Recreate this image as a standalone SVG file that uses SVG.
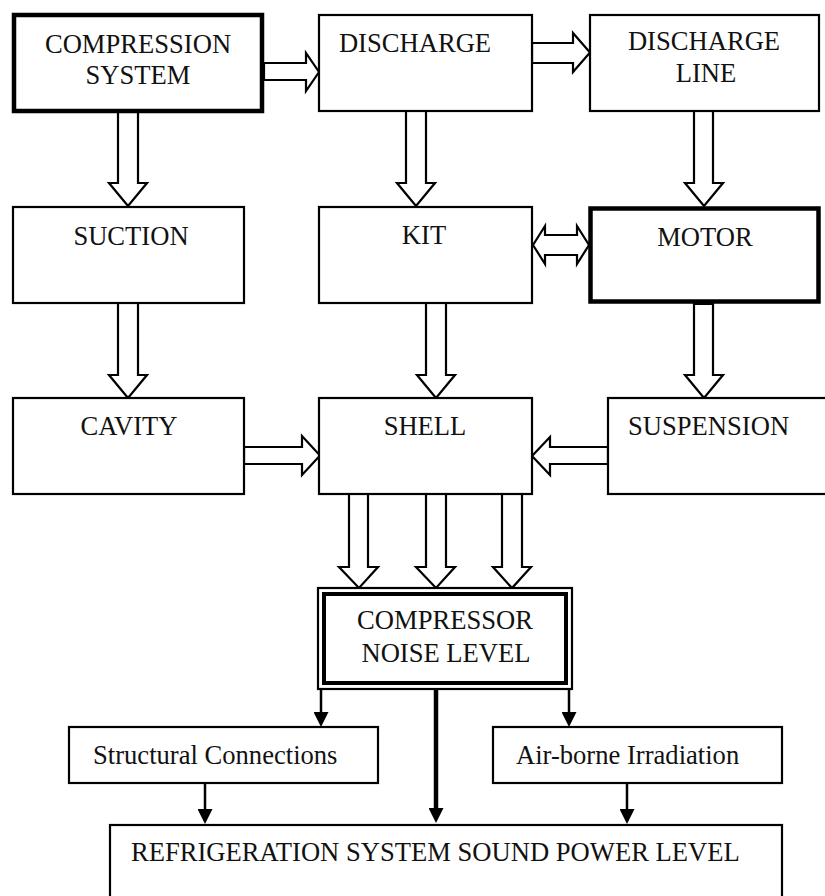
<svg xmlns="http://www.w3.org/2000/svg" width="825" height="896" viewBox="0 0 825 896">
<style>
text{font-family:"Liberation Serif","Times New Roman",serif;font-size:26.6px;fill:#111}
.c{text-anchor:middle}
.box{fill:#fff;stroke:#000;stroke-width:2.2}
.thick{fill:#fff;stroke:#000;stroke-width:4.5}
.blk{fill:#fff;stroke:#000;stroke-width:2.2;stroke-linejoin:miter}
.ln{fill:none;stroke:#000;stroke-width:2.5}
.lnb{fill:none;stroke:#000;stroke-width:4.5}
</style>
<defs>
<marker id="ah" viewBox="0 0 15 15" refX="0" refY="7.5" markerWidth="15" markerHeight="15" markerUnits="userSpaceOnUse" orient="auto">
<path d="M0,0 L15,7.5 L0,15 z" fill="#000"/>
</marker>
</defs>
<rect width="825" height="896" fill="#fff"/>

<g id="connectors">
<polygon class="blk" points="118,112 118,183 109,183 128,206 147,183 138,183 138,112"/>
<polygon class="blk" points="406,111 406,183 397,183 416,206 435,183 426,183 426,111"/>
<polygon class="blk" points="694,111 694,183 685,183 704,206 723,183 713,183 713,111"/>
<polygon class="blk" points="118,303 118,375 109,375 128,398 147,375 138,375 138,303"/>
<polygon class="blk" points="426,303 426,375 417,375 436,398 455,375 446,375 446,303"/>
<polygon class="blk" points="694,304 694,375 685,375 704,398 723,375 713,375 713,304"/>
<polygon class="blk" points="349,494 349,567 339,567 359,588 378,567 368,567 368,494"/>
<polygon class="blk" points="426,494 426,567 416,567 436,588 455,567 446,567 446,494"/>
<polygon class="blk" points="502,494 502,567 493,567 512,588 531,567 522,567 522,494"/>
<polygon class="blk" points="264,63 306,63 306,53 319,72 306,91 306,80 264,80"/>
<polygon class="blk" points="532,43 573,43 573,33 590,52.5 573,72 573,63 532,63"/>
<polygon class="blk" points="244,447 302,447 302,436 320,455.5 302,475 302,464 244,464"/>
<polygon class="blk" points="608,447 550,447 550,437 532,456 550,475 550,464 608,464"/>
<polygon class="blk" points="533,245 545,226 545,235 577,235 577,226 589,245 577,264 577,255 545,255 545,264"/>
<line class="ln" x1="321" y1="690" x2="321" y2="712" marker-end="url(#ah)"/>
<line class="ln" x1="569" y1="690" x2="569" y2="712" marker-end="url(#ah)"/>
<line class="lnb" x1="436" y1="690" x2="436" y2="808" marker-end="url(#ah)"/>
<line class="ln" x1="205" y1="783" x2="205" y2="809" marker-end="url(#ah)"/>
<line class="ln" x1="627" y1="783" x2="627" y2="809" marker-end="url(#ah)"/>
</g>

<g id="compression-system">
<rect class="thick" x="14" y="15" width="248" height="96"/>
<text class="c" x="138" y="53">COMPRESSION</text>
<text class="c" x="138" y="84">SYSTEM</text>
</g>
<g id="discharge">
<rect class="box" x="319" y="15" width="213" height="96"/>
<text class="c" x="415" y="52">DISCHARGE</text>
</g>
<g id="discharge-line">
<rect class="box" x="590" y="15" width="229" height="96"/>
<text class="c" x="704" y="50">DISCHARGE</text>
<text class="c" x="706" y="82">LINE</text>
</g>
<g id="suction">
<rect class="box" x="13" y="207" width="231" height="96"/>
<text class="c" x="131" y="245">SUCTION</text>
</g>
<g id="kit">
<rect class="box" x="319" y="207" width="213" height="96"/>
<text class="c" x="424" y="244">KIT</text>
</g>
<g id="motor">
<rect class="thick" x="590.5" y="208.5" width="228" height="93"/>
<text class="c" x="705" y="246">MOTOR</text>
</g>
<g id="cavity">
<rect class="box" x="13" y="398" width="231" height="96"/>
<text class="c" x="129" y="435">CAVITY</text>
</g>
<g id="shell">
<rect class="box" x="319" y="398" width="213" height="96"/>
<text class="c" x="425" y="435">SHELL</text>
</g>
<g id="suspension">
<rect class="box" x="608" y="398" width="230" height="96"/>
<text x="628" y="435">SUSPENSION</text>
</g>
<g id="compressor-noise-level">
<rect class="box" x="318" y="588" width="254" height="101" stroke-width="2"/>
<rect fill="none" stroke="#000" stroke-width="4" x="324" y="594" width="242" height="89"/>
<text class="c" x="445" y="629">COMPRESSOR</text>
<text class="c" x="446" y="662">NOISE LEVEL</text>
</g>
<g id="structural-connections">
<rect class="box" x="69" y="727" width="309" height="56"/>
<text x="93" y="764">Structural Connections</text>
</g>
<g id="air-borne-irradiation">
<rect class="box" x="493" y="727" width="289" height="56"/>
<text x="516" y="764">Air-borne Irradiation</text>
</g>
<g id="refrigeration-system">
<rect class="box" x="110" y="825" width="672" height="90"/>
<text x="131" y="861">REFRIGERATION SYSTEM SOUND POWER LEVEL</text>
</g>
</svg>
